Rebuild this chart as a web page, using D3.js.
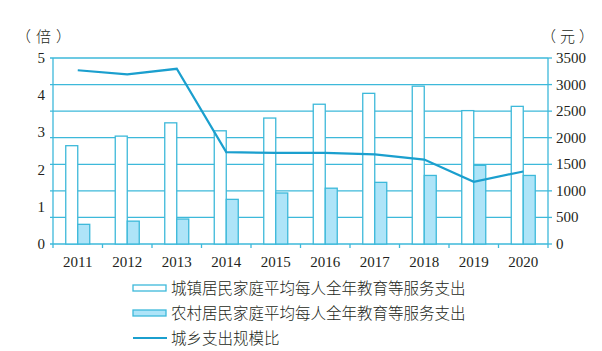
<!DOCTYPE html>
<html>
<head>
<meta charset="utf-8">
<script src="https://cdn.jsdelivr.net/npm/d3@7"></script>
<style>
  body { margin: 0; background: #fff; }
  .num { font-family: "Liberation Serif", "DejaVu Serif", serif; fill: #231f20; }
  .cjk { font-family: "Noto Sans CJK SC", sans-serif; fill: #231f20; font-weight: 300; }
</style>
</head>
<body>
<div id="chart"></div>
<script>
// chart data
const years = ["2011", "2012", "2013", "2014", "2015", "2016", "2017", "2018", "2019", "2020"];
const urban = [1850, 2030, 2280, 2130, 2370, 2630, 2835, 2970, 2510, 2590];
const rural = [370, 430, 470, 840, 960, 1050, 1160, 1290, 1480, 1290];
const ratio = [4.67, 4.56, 4.71, 2.47, 2.45, 2.45, 2.41, 2.27, 1.67, 1.95];
const leftTicks = [0, 1, 2, 3, 4, 5];
const rightTicks = [0, 500, 1000, 1500, 2000, 2500, 3000, 3500];
const legendLabels = ["城镇居民家庭平均每人全年教育等服务支出", "农村居民家庭平均每人全年教育等服务支出", "城乡支出规模比"];

const width = 602, height = 351,
      margin = ({ top: 58, right: 54, bottom: 107, left: 53 });

const gridColor = "#3db9da",
      lineColor = "#1b9fce",
      ruralFill = "#aee4f8";

let svg = d3.select("#chart")
    .append("svg")
    .attr("width", width)
    .attr("height", height);

let x = d3.scaleBand()
    .domain(years)
    .range([margin.left, width - margin.right]);

let yR = d3.scaleLinear()
    .domain([0, 3500])
    .range([height - margin.bottom, margin.top]);

let yL = d3.scaleLinear()
    .domain([0, 5])
    .range([height - margin.bottom, margin.top]);

// grid lines
svg.append("g")
    .selectAll("line")
    .data(rightTicks)
    .join("line")
    .attr("x1", margin.left - 3)
    .attr("x2", width - margin.right)
    .attr("y1", d => yR(d))
    .attr("y2", d => yR(d))
    .attr("stroke", gridColor)
    .attr("stroke-width", 1.3);

// left and right axis lines
[margin.left, width - margin.right].forEach(xx => {
    svg.append("line")
        .attr("x1", xx).attr("x2", xx)
        .attr("y1", yR(3500)).attr("y2", yR(0))
        .attr("stroke", gridColor).attr("stroke-width", 1.3);
});

// right ticks
svg.append("g")
    .selectAll("line")
    .data(rightTicks)
    .join("line")
    .attr("x1", width - margin.right)
    .attr("x2", width - margin.right + 4)
    .attr("y1", d => yR(d))
    .attr("y2", d => yR(d))
    .attr("stroke", gridColor)
    .attr("stroke-width", 1.3);

// bottom ticks at band edges
let edges = years.map(d => x(d)).concat([width - margin.right]);
svg.append("g")
    .selectAll("line")
    .data(edges)
    .join("line")
    .attr("x1", d => d).attr("x2", d => d)
    .attr("y1", yR(0)).attr("y2", yR(0) + 4)
    .attr("stroke", gridColor).attr("stroke-width", 1.3);

// bars
const bw = 12;
let bar = svg.selectAll(".bar")
    .data(years)
    .join("g")
    .attr("class", "bar");

bar.append("rect")
    .attr("x", (d) => x(d) + x.bandwidth() / 2 - bw)
    .attr("width", bw)
    .attr("y", (d, i) => yR(urban[i]))
    .attr("height", (d, i) => yR(0) - yR(urban[i]))
    .attr("fill", "white")
    .attr("stroke", gridColor)
    .attr("stroke-width", 1.3);

bar.append("rect")
    .attr("x", (d) => x(d) + x.bandwidth() / 2)
    .attr("width", bw)
    .attr("y", (d, i) => yR(rural[i]))
    .attr("height", (d, i) => yR(0) - yR(rural[i]))
    .attr("fill", ruralFill)
    .attr("stroke", gridColor)
    .attr("stroke-width", 1.3);

// ratio line
let line = d3.line()
    .x((d, i) => x(years[i]) + x.bandwidth() / 2)
    .y(d => yL(d));

svg.append("path")
    .datum(ratio)
    .attr("d", line)
    .attr("fill", "none")
    .attr("stroke", lineColor)
    .attr("stroke-width", 2.2);

// axis labels
svg.append("g")
    .selectAll("text")
    .data(leftTicks)
    .join("text")
    .attr("class", "num")
    .attr("x", margin.left - 8)
    .attr("y", d => yL(d) + 5)
    .attr("text-anchor", "end")
    .attr("font-size", 15)
    .text(d => d);

svg.append("g")
    .selectAll("text")
    .data(rightTicks)
    .join("text")
    .attr("class", "num")
    .attr("x", width - margin.right + 8)
    .attr("y", d => yR(d) + 5)
    .attr("font-size", 15)
    .text(d => d);

svg.append("g")
    .selectAll("text")
    .data(years)
    .join("text")
    .attr("class", "num")
    .attr("x", d => x(d) + x.bandwidth() / 2)
    .attr("y", yR(0) + 23)
    .attr("text-anchor", "middle")
    .attr("font-size", 15)
    .text(d => d);

// units
svg.append("text").attr("class", "cjk")
    .attr("x", 16).attr("y", 42).attr("font-size", 15)
    .attr("letter-spacing", 5)
    .text("（倍）");
svg.append("text").attr("class", "cjk")
    .attr("x", 541).attr("y", 42).attr("font-size", 15)
    .attr("letter-spacing", 4)
    .text("（元）");

// legend
const lx = 133, ly = [288, 313, 338];
svg.append("rect")
    .attr("x", lx).attr("y", ly[0] - 3).attr("width", 33).attr("height", 6)
    .attr("fill", "white").attr("stroke", gridColor).attr("stroke-width", 1.3);
svg.append("rect")
    .attr("x", lx).attr("y", ly[1] - 3).attr("width", 33).attr("height", 6)
    .attr("fill", ruralFill).attr("stroke", gridColor).attr("stroke-width", 1.3);
svg.append("line")
    .attr("x1", lx).attr("x2", lx + 34).attr("y1", ly[2]).attr("y2", ly[2])
    .attr("stroke", lineColor).attr("stroke-width", 2.2);

svg.append("g")
    .selectAll("text")
    .data(legendLabels)
    .join("text")
    .attr("class", "cjk")
    .attr("x", lx + 38)
    .attr("y", (d, i) => ly[i] + 5.5)
    .attr("font-size", 15.5)
    .text(d => d);
</script>
</body>
</html>
